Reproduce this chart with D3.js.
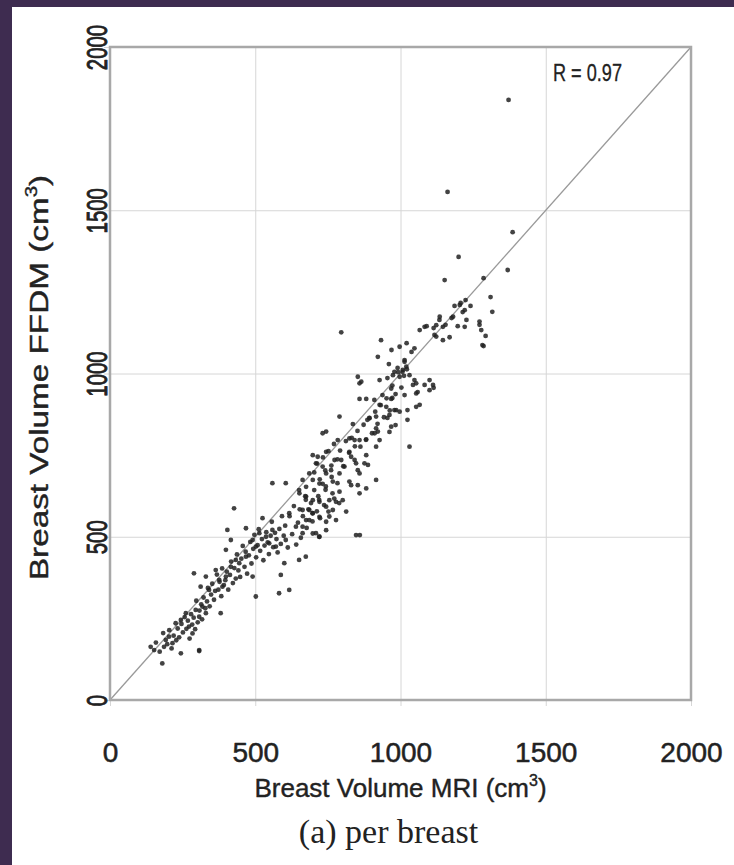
<!DOCTYPE html>
<html>
<head>
<meta charset="utf-8">
<script src="https://cdn.jsdelivr.net/npm/d3@7"></script>
<style>
  html, body { margin: 0; padding: 0; background: #fff; }
  svg { display: block; }
</style>
</head>
<body>
<div id="chart"></div>
<script>
// DATA

// Breast volume measured on MRI (cm3), one per breast
const mriVolume = [
  796, 933, 997, 1048, 1083, 1123, 1146, 1135, 1181, 1204, 1221, 1227, 1272, 1278, 1282, 1316, 1221, 1117, 1123, 1146,
  1169, 922, 960, 1014, 1020, 1008, 853, 865, 859, 928, 974, 997, 1048, 1054, 1043, 1112, 1100, 968, 1054, 859,
  882, 968, 951, 985, 997, 1054, 790, 893, 916, 962, 968, 836, 916, 922, 911, 744, 732, 824, 842, 859,
  882, 784, 916, 1031, 698, 715, 744, 824, 830, 842, 847, 882, 876, 773, 796, 709, 732, 807, 761, 744,
  790, 853, 859, 888, 686, 663, 675, 698, 721, 767, 790, 824, 830, 916, 882, 853, 859, 652, 675, 698,
  721, 755, 778, 801, 744, 767, 813, 663, 686, 698, 721, 744, 675, 698, 721, 847, 663, 744,
  427, 140, 152, 180, 244, 307, 192, 203, 215, 186, 226, 244, 261, 272, 284, 295, 307, 318, 330, 289,
  312, 330, 341, 364, 376, 387, 399, 416, 433, 381, 404, 416, 399, 468, 491, 502, 514, 525, 537, 548,
  559, 502, 491, 468, 445, 582, 588, 600, 571, 605, 617, 640, 651, 674, 663, 559, 605, 651, 674, 697,
  720, 743, 766, 789, 709, 720, 755, 778, 686,
  158, 171, 183, 197, 204, 212, 219, 228, 233, 238, 246, 251, 257, 263, 268, 274, 279, 283, 288, 293,
  297, 302, 308, 314, 317, 322, 328, 334, 337, 343, 348, 352, 358, 362, 368, 373, 377, 383, 386, 392,
  397, 402, 407, 413, 417, 423, 428, 433, 437, 442, 448, 452, 457, 463, 467, 472, 478, 483, 487, 493,
  497, 503, 508, 512, 517, 523, 528, 532, 538, 543, 547, 553, 557, 562, 568, 573, 577, 583, 588, 592,
  598, 603, 612, 618, 627, 633, 641, 647, 653, 657, 664, 672, 677, 683, 692, 697, 703, 712, 717, 723,
  732, 737, 742, 752, 763, 772, 783,
  703, 713, 722, 733, 741, 752, 762, 771, 783, 792, 803, 812, 823, 832, 843, 852, 862, 873, 881, 893,
  902, 913, 921, 932, 943, 952, 963, 972, 983, 992, 1003, 1012, 1022,
  1372, 1162, 1386, 1200, 1369, 1286, 1152, 1310, 1224, 1207, 1186, 1241, 1214, 1176, 1134, 1155, 1114, 1197, 1272, 1090,
  1066, 1293, 1286, 1100, 1114, 1083, 1021, 969, 1038, 1014, 990, 1007, 979, 1031, 955, 1059, 1014, 972, 938, 910,
  928, 979, 1024, 1066, 1024, 983, 962, 928, 955, 886, 860, 617, 307
];

// Breast volume measured on FFDM (cm3), same order as mriVolume
const ffdmVolume = [
  1126, 1102, 1082, 1077, 1143, 1148, 1143, 1174, 1174, 1210, 1194, 1164, 1159, 1133, 1087, 1189, 1143, 1118, 1113, 1102,
  1111, 1051, 1029, 1036, 1021, 1011, 990, 975, 970, 980, 995, 990, 980, 970, 965, 965, 949, 954, 939, 922,
  922, 922, 898, 888, 883, 898, 868, 863, 868, 873, 837, 845, 832, 822, 817, 822, 817, 801, 796, 796,
  798, 796, 776, 776, 750, 745, 760, 760, 745, 735, 725, 750, 725, 735, 735, 725, 715, 715, 704, 694,
  694, 704, 694, 720, 694, 674, 653, 674, 663, 669, 638, 669, 658, 674, 648, 658, 633, 633, 623, 612,
  607, 612, 607, 612, 592, 582, 577, 582, 582, 572, 561, 546, 551, 510, 500, 505, 531, 520,
  587, 163, 153, 112, 143, 153, 184, 194, 174, 163, 235, 245, 266, 225, 204, 276, 255, 286, 266, 388,
  347, 378, 337, 398, 368, 347, 378, 408, 429, 266, 521, 490, 460, 526, 490, 470, 511, 557, 500, 480,
  521, 317, 378, 439, 419, 327, 383, 419, 470, 490, 572, 531, 429, 439, 511, 664, 664, 643, 613, 572,
  613, 654, 633, 603, 511, 500, 562, 551, 551,
  176, 148, 205, 171, 214, 158, 197, 183, 219, 192, 233, 207, 254, 218, 243, 188, 263, 231, 252, 217,
  304, 238, 274, 293, 247, 314, 281, 302, 343, 287, 323, 356, 307, 334, 384, 338, 362, 318, 403, 352,
  367, 393, 338, 383, 424, 358, 404, 372, 446, 397, 377, 433, 472, 408, 454, 387, 443, 484, 418, 463,
  506, 437, 474, 523, 457, 493, 428, 473, 514, 483, 447, 503, 546, 468, 512, 493, 452, 524, 478, 563,
  503, 534, 467, 563, 508, 594, 476, 543, 584, 497, 563, 624, 527, 584, 603, 547, 643, 578, 624, 557,
  662, 597, 644, 577, 683, 617, 664,
  697, 724, 676, 743, 703, 762, 718, 784, 737, 764, 716, 793, 757, 803, 777, 824, 776, 843, 797, 864,
  817, 883, 846, 903, 866, 924, 887, 963, 937, 1004, 957, 993, 1013,
  1838, 1556, 1433, 1357, 1317, 1292, 1286, 1234, 1225, 1216, 1207, 1207, 1188, 1170, 1164, 1149, 1139, 1145, 1149, 1145,
  1133, 1115, 1084, 980, 956, 965, 1093, 1072, 1066, 1041, 1017, 1005, 1005, 995, 986, 943, 934, 925, 934, 919,
  904, 888, 888, 904, 858, 842, 821, 796, 864, 858, 505, 337, 150
];

// Axis ticks and the identity line
const axisTicks = [0, 500, 1000, 1500, 2000];
const identityLine = [0, 2000];
const correlation = "R = 0.97";

// Texts
const xTitle = "Breast Volume MRI (cm";
const yTitle = "Breast Volume FFDM (cm";
const caption = "(a) per breast";

// LAYOUT
const width = 734, height = 865;
const margin = { top: 47, right: 43, bottom: 165, left: 110 };
const plotW = width - margin.left - margin.right;
const plotH = height - margin.top - margin.bottom;

const svg = d3.select("#chart")
  .append("svg")
    .attr("width", width)
    .attr("height", height);

// Purple page edge seen on the left and top of the reference
svg.append("rect").attr("x", 0).attr("y", 0).attr("width", width).attr("height", 7).attr("fill", "#3e2c50");
svg.append("rect").attr("x", 0).attr("y", 0).attr("width", 12).attr("height", height).attr("fill", "#3e2c50");

const g = svg.append("g")
  .attr("transform", "translate(" + margin.left + "," + margin.top + ")");

const x = d3.scaleLinear().domain([0, 2000]).range([0, plotW]);
const y = d3.scaleLinear().domain([0, 2000]).range([plotH, 0]);

const sans = "'Liberation Sans', Arial, Helvetica, sans-serif";
const ink = "#222";

// the scanned original has soft, heavy glyphs: a thin outline imitates that
function heavy(sel, w) {
  sel.attr("stroke", ink).attr("stroke-width", w).attr("stroke-linejoin", "round");
}

// Grid + tick labels, x direction
const xAxis = g.append("g")
  .attr("transform", "translate(0," + plotH + ")")
  .call(d3.axisBottom(x).tickValues(axisTicks).tickFormat(d3.format("d"))
    .tickSizeInner(-plotH).tickSizeOuter(0).tickPadding(0));
xAxis.select(".domain").remove();
xAxis.selectAll("line").attr("stroke", "#d6d6d6").attr("y1", 6);
xAxis.selectAll("text")
  .attr("y", 62)
  .attr("dy", 0)
  .attr("font-family", sans)
  .attr("font-size", 28)
  .attr("fill", ink)
  .call(heavy, 0.5);

// Grid + tick labels, y direction (labels turned and narrow like the original)
const yAxis = g.append("g")
  .call(d3.axisLeft(y).tickValues(axisTicks).tickFormat(d3.format("d"))
    .tickSizeInner(-plotW).tickSizeOuter(0));
yAxis.select(".domain").remove();
yAxis.selectAll("line").attr("stroke", "#d6d6d6").attr("x1", -6);
yAxis.selectAll("text")
  .attr("transform", "rotate(-90) scale(0.68,1)")
  .attr("x", 0)
  .attr("y", -3)
  .attr("dy", 0)
  .attr("text-anchor", "middle")
  .attr("font-family", sans)
  .attr("font-size", 30)
  .attr("fill", ink)
  .call(heavy, 0.9);

// Identity line
g.append("line")
  .attr("x1", x(identityLine[0])).attr("y1", y(identityLine[0]))
  .attr("x2", x(identityLine[1])).attr("y2", y(identityLine[1]))
  .attr("stroke", "#9a9a9a")
  .attr("stroke-width", 1.3);

// Points
const points = mriVolume.map((m, i) => ({ mri: m, ffdm: ffdmVolume[i] }));
g.selectAll("circle.pt")
  .data(points)
  .enter()
  .append("circle")
    .attr("class", "pt")
    .attr("cx", d => x(d.mri))
    .attr("cy", d => y(d.ffdm))
    .attr("r", 2.4)
    .attr("fill", "#222")
    .attr("opacity", 0.85);

// Frame
g.append("rect")
  .attr("x", 0).attr("y", 0)
  .attr("width", plotW).attr("height", plotH)
  .attr("fill", "none")
  .attr("stroke", "#a8a8a8")
  .attr("stroke-width", 2.5);

// Correlation label
g.append("text")
  .attr("x", x(1525))
  .attr("y", y(1895))
  .attr("font-family", sans)
  .attr("font-size", 23)
  .attr("fill", ink)
  .attr("textLength", 69)
  .attr("lengthAdjust", "spacingAndGlyphs")
  .call(heavy, 0.3)
  .text(correlation);

// Axis titles with superscript 3
const xt = svg.append("text")
  .attr("x", margin.left + plotW / 2)
  .attr("y", 797)
  .attr("text-anchor", "middle")
  .attr("font-family", sans)
  .attr("font-size", 26)
  .attr("fill", ink)
  .call(heavy, 0.4);
xt.append("tspan").text(xTitle);
xt.append("tspan").attr("dy", -11).attr("font-size", 16).text("3");
xt.append("tspan").attr("dy", 11).text(")");

const yt = svg.append("text")
  .attr("transform", "translate(48," + (margin.top + plotH / 2 + 4) + ") rotate(-90) scale(1.28,1)")
  .attr("text-anchor", "middle")
  .attr("font-family", sans)
  .attr("font-size", 26)
  .attr("fill", ink)
  .call(heavy, 0.4);
yt.append("tspan").text(yTitle);
yt.append("tspan").attr("dy", -11).attr("font-size", 16).text("3");
yt.append("tspan").attr("dy", 11).text(")");

// Caption under the plot
svg.append("text")
  .attr("x", margin.left + plotW / 2 - 12)
  .attr("y", 843)
  .attr("text-anchor", "middle")
  .attr("font-family", "'Liberation Serif', 'DejaVu Serif', serif")
  .attr("font-size", 34)
  .attr("fill", ink)
  .text(caption);
</script>
</body>
</html>
